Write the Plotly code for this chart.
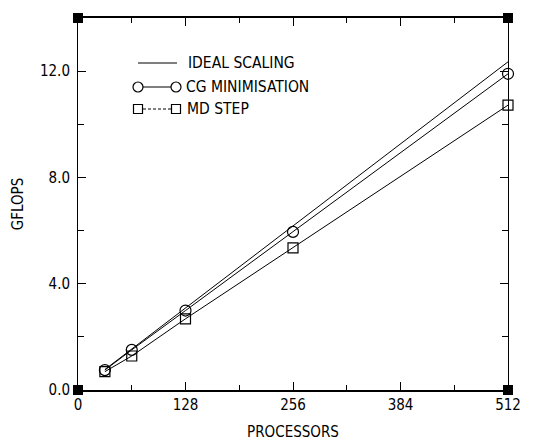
import plotly.graph_objects as go

processors = [32, 64, 128, 256, 512]
ideal_gflops = [0.77, 1.54, 3.08, 6.17, 12.35]
cg_gflops = [0.75, 1.51, 2.99, 5.95, 11.9]
md_gflops = [0.69, 1.28, 2.68, 5.35, 10.72]

x_ticks = [0, 128, 256, 384, 512]
y_ticks = [0.0, 4.0, 8.0, 12.0]

FONT = "DejaVu Sans Condensed, DejaVu Sans, sans-serif"

# page body has an 8px margin; compensate so the plot area lands where the reference has it
OFF = 8
W, H = 535, 433
L, T = 78 - OFF, 18 - OFF
PW, PH = 430, 372
R, B = W - L - PW, H - T - PH

fig = go.Figure()
line = dict(color="black", width=1)
fig.add_trace(go.Scatter(x=processors, y=ideal_gflops, mode="lines", line=line,
                         name="IDEAL SCALING", cliponaxis=False))
fig.add_trace(go.Scatter(x=processors, y=cg_gflops, mode="lines+markers", line=line,
                         marker=dict(symbol="circle-open", size=11, color="black", line=dict(width=1.2)),
                         name="CG MINIMISATION", cliponaxis=False))
fig.add_trace(go.Scatter(x=processors, y=md_gflops, mode="lines+markers", line=line,
                         marker=dict(symbol="square-open", size=10, color="black", line=dict(width=1.2)),
                         name="MD STEP", cliponaxis=False))

# convert reference-screen pixels to paper coords
def px(xp):
    return (xp - 78) / PW
def py(yp):
    return (390 - yp) / PH

shapes = []
for xa in (0, 1):
    for ya in (0, 1):
        shapes.append(dict(type="rect", xref="paper", yref="paper",
                           xsizemode="pixel", ysizemode="pixel",
                           xanchor=xa, yanchor=ya, x0=-5, x1=5, y0=-5, y1=5,
                           fillcolor="black", line=dict(width=0)))
# legend
shapes.append(dict(type="line", xref="paper", yref="paper", x0=px(138), x1=px(177),
                   y0=py(63), y1=py(63), line=dict(color="black", width=1)))
shapes.append(dict(type="line", xref="paper", yref="paper", x0=px(138), x1=px(176),
                   y0=py(87), y1=py(87), line=dict(color="black", width=1)))
shapes.append(dict(type="line", xref="paper", yref="paper", x0=px(138), x1=px(176),
                   y0=py(109), y1=py(109), line=dict(color="black", width=1, dash="3px,2px")))
for cx in (138, 176):
    shapes.append(dict(type="circle", xref="paper", yref="paper",
                       xsizemode="pixel", ysizemode="pixel",
                       xanchor=px(cx), yanchor=py(87), x0=-5, x1=5, y0=-5, y1=5,
                       fillcolor="white", line=dict(color="black", width=1.2)))
    shapes.append(dict(type="rect", xref="paper", yref="paper",
                       xsizemode="pixel", ysizemode="pixel",
                       xanchor=px(cx), yanchor=py(109), x0=-4.5, x1=4.5, y0=-4.5, y1=4.5,
                       fillcolor="white", line=dict(color="black", width=1.2)))

annotations = []
for label, ypix, xpix in (("IDEAL SCALING", 63, 187), ("CG MINIMISATION", 87, 185), ("MD STEP", 109, 186)):
    annotations.append(dict(text=label, xref="paper", yref="paper", x=px(xpix), y=py(ypix),
                            xanchor="left", yanchor="middle", showarrow=False, borderpad=0,
                            font=dict(family=FONT, size=15.5, color="black")))

fig.update_layout(
    width=W, height=H,
    margin=dict(l=L, r=R, t=T, b=B, pad=0, autoexpand=False),
    plot_bgcolor="white", paper_bgcolor="white",
    showlegend=False,
    font=dict(family=FONT, size=15, color="black"),
    shapes=shapes, annotations=annotations,
    xaxis=dict(range=[0, 512], tickvals=x_ticks, ticktext=[str(v) for v in x_ticks],
               ticks="inside", ticklen=8, tickwidth=1, tickcolor="black",
               minor=dict(dtick=64, tick0=0, ticks="inside", ticklen=5, tickcolor="black", showgrid=False),
               showline=True, linecolor="black", linewidth=1.5, mirror="ticks",
               showgrid=False, zeroline=False, automargin=False,
               title=dict(text="PROCESSORS", standoff=20, font=dict(size=15))),
    yaxis=dict(range=[0, 14], tickvals=y_ticks, ticktext=[f"{v:.1f}" for v in y_ticks],
               ticks="inside", ticklen=8, tickwidth=1, tickcolor="black", ticklabelstandoff=4,
               minor=dict(dtick=2, tick0=0, ticks="inside", ticklen=6, tickcolor="black", showgrid=False),
               showline=True, linecolor="black", linewidth=1, mirror="ticks",
               showgrid=False, zeroline=False, automargin=False,
               title=dict(text="GFLOPS", standoff=12, font=dict(size=15))),
)

fig.write_html("out.html")
